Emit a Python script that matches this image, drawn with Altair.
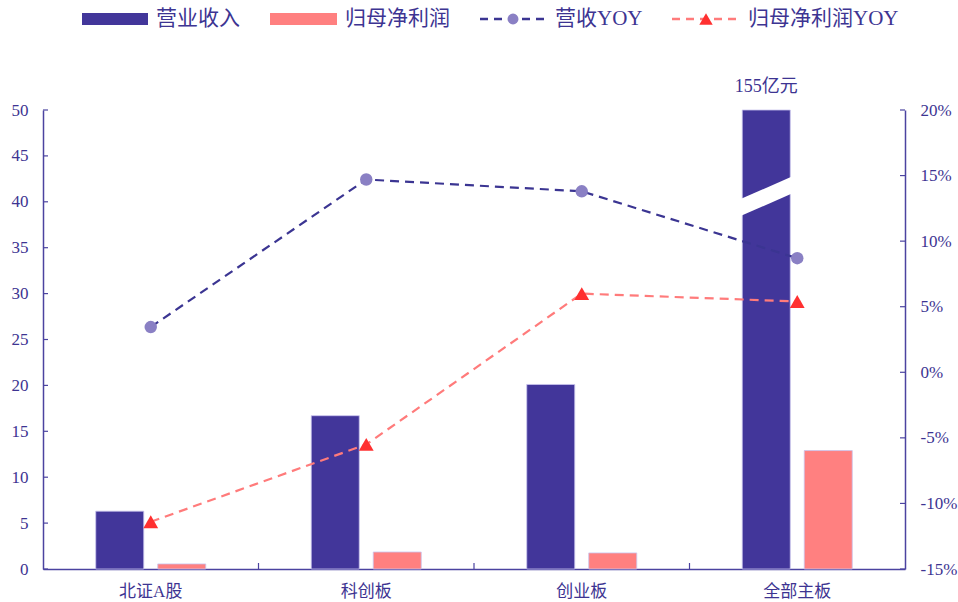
import altair as alt
import pandas as pd

categories = ["北证A股", "科创板", "创业板", "全部主板"]
series_names = ["营业收入", "归母净利润"]
revenue = [6.3, 16.7, 20.1, 155]
profit = [0.55, 1.85, 1.75, 12.9]
rev_yoy = [3.45, 14.7, 13.8, 8.7]
profit_yoy = [-11.4, -5.5, 6.0, 5.4]
left_ticks = [0, 5, 10, 15, 20, 25, 30, 35, 40, 45, 50]
right_ticks = [-15, -10, -5, 0, 5, 10, 15, 20]
break_value = 40.6
annotation = "155亿元"
legend_labels = ["营业收入", "归母净利润", "营收YOY", "归母净利润YOY"]

W, H = 862, 459
TXT = "#3d3492"
NAVY = "#42369a"
PINK = "#ff8080"
AX = "#4b43a0"
FONT = "Liberation Serif, Noto Sans CJK SC"

bars_df = pd.DataFrame({
    "category": categories * 2,
    "series": [series_names[0]] * 4 + [series_names[1]] * 4,
    "value": revenue + profit,
})
yoy_df = pd.DataFrame({"category": categories, "rev": rev_yoy, "prof": profit_yoy})

x_scale = alt.Scale(domain=categories, paddingInner=0, paddingOuter=0)
xo_scale = alt.Scale(domain=series_names, paddingInner=0.2258, paddingOuter=0.8508)
yl_scale = alt.Scale(domain=[0, 50], clamp=True, nice=False, zero=False)
yr_scale = alt.Scale(domain=[-15, 20], nice=False, zero=False)

x_axis = alt.Axis(title=None, labelAngle=0, ticks=False, grid=False, domainColor=AX, domainWidth=1.5,
                  labelColor=TXT, labelFontSize=17, labelPadding=14, labelFont=FONT)
yl_axis = alt.Axis(title=None, values=left_ticks, ticks=False, grid=False, domainColor=AX,
                   domainWidth=1.5, labelColor=TXT, labelFontSize=17, labelPadding=15, labelFont=FONT)
yr_axis = alt.Axis(title=None, orient="right", values=right_ticks, ticks=False, grid=False, domainColor=AX,
                   domainWidth=1.5, labelColor=TXT, labelFontSize=17, labelPadding=15, labelFont=FONT,
                   labelExpr="datum.value + '%'")

X = lambda **kw: alt.X("category:N", scale=x_scale, axis=x_axis, sort=categories, **kw)
XO = lambda: alt.XOffset("series:N", scale=xo_scale, sort=series_names)
YL = lambda f: alt.Y(f, scale=yl_scale, axis=yl_axis)
YR = lambda f: alt.Y(f, scale=yr_scale, axis=yr_axis)

bars = alt.Chart(bars_df).mark_bar(stroke="#c9c4ee", strokeWidth=0.8).encode(
    x=X(), xOffset=XO(), y=YL("value:Q"),
    color=alt.Color("series:N", scale=alt.Scale(domain=series_names, range=[NAVY, PINK]), legend=None),
)

brk_df = pd.DataFrame({"category": [categories[3]], "series": [series_names[0]], "v": [break_value]})
brk = alt.Chart(brk_df).mark_point(
    shape="M-1,0.134 L1,-0.741 L1,-0.134 L-1,0.741 Z", filled=True, fill="white", opacity=1, strokeWidth=0
).encode(x=X(), xOffset=XO(), y=YL("v:Q"), size=alt.value(3136))

ann_df = pd.DataFrame({"category": [categories[3]], "series": [series_names[0]], "v": [50], "t": [annotation]})
ann = alt.Chart(ann_df).mark_text(font=FONT, fontSize=18, color=TXT, dy=-23, baseline="middle").encode(
    x=X(), xOffset=XO(), y=YL("v:Q"), text="t:N")

lt = alt.Chart(pd.DataFrame({"v": left_ticks})).mark_rule(color=AX, strokeWidth=1.2).encode(
    y=YL("v:Q"), x=alt.value(0), x2=alt.value(5))

xt = alt.Chart(pd.DataFrame({"category": categories[1:]})).mark_rule(color=AX, strokeWidth=1.2).encode(
    x=X(bandPosition=0), y=alt.value(H), y2=alt.value(H - 6))

# legend (chrome)
def leg_text(label, x):
    return alt.Chart(pd.DataFrame({"t": [label]})).mark_text(
        font=FONT, fontSize=21, color=TXT, align="left", baseline="middle").encode(
        x=alt.value(x), y=alt.value(-91), text="t:N")

def leg_rect(x0, x1, color):
    return alt.Chart(pd.DataFrame({"t": ["r"]})).mark_rect(color=color).encode(
        x=alt.value(x0), x2=alt.value(x1), y=alt.value(-97), y2=alt.value(-85))

def leg_line(x0, x1, color):
    return alt.Chart(pd.DataFrame({"t": ["l"]})).mark_rule(color=color, strokeWidth=2.5, strokeDash=[8, 6]).encode(
        x=alt.value(x0), x2=alt.value(x1), y=alt.value(-91))

def leg_mark(x, shape, color, size):
    return alt.Chart(pd.DataFrame({"t": ["m"]})).mark_point(shape=shape, filled=True, color=color, opacity=1).encode(
        x=alt.value(x), y=alt.value(-91), size=alt.value(size))

legend = [
    leg_rect(39, 105, NAVY), leg_text(legend_labels[0], 113),
    leg_rect(227, 294, PINK), leg_text(legend_labels[1], 302),
    leg_line(437, 502, "#3b3592"), leg_mark(470, "circle", "#8a80c4", 120), leg_text(legend_labels[2], 512),
    leg_line(629, 697, "#ff7b7b"), leg_mark(663, "triangle-up", "#ff3030", 180), leg_text(legend_labels[3], 705),
]

left = alt.layer(bars, brk, ann, lt, xt, *legend)

base = alt.Chart(yoy_df).encode(x=X())
rev_line = base.mark_line(color="#3b3592", strokeWidth=2.2, strokeDash=[9, 6]).encode(y=YR("rev:Q"))
prof_line = base.mark_line(color="#ff7b7b", strokeWidth=2.2, strokeDash=[9, 6]).encode(y=YR("prof:Q"))
rev_pts = base.mark_point(shape="circle", filled=True, color="#8a80c4", opacity=1, size=155).encode(y=YR("rev:Q"))
prof_pts = base.mark_point(shape="triangle-up", filled=True, color="#ff3030", opacity=1, size=220).encode(y=YR("prof:Q"))
rt = alt.Chart(pd.DataFrame({"v": right_ticks})).mark_rule(color=AX, strokeWidth=1.2).encode(
    y=YR("v:Q"), x=alt.value(W - 5), x2=alt.value(W))

right = alt.layer(rev_line, prof_line, rev_pts, prof_pts, rt)

chart = alt.layer(left, right).resolve_scale(y="independent").properties(
    width=W, height=H, autosize="none",
    padding={"left": 43, "top": 110, "right": 53, "bottom": 33},
    background="white",
).configure(font=FONT).configure_view(strokeWidth=0)

chart.save("out.html", embed_options={"renderer": "svg", "actions": False})
